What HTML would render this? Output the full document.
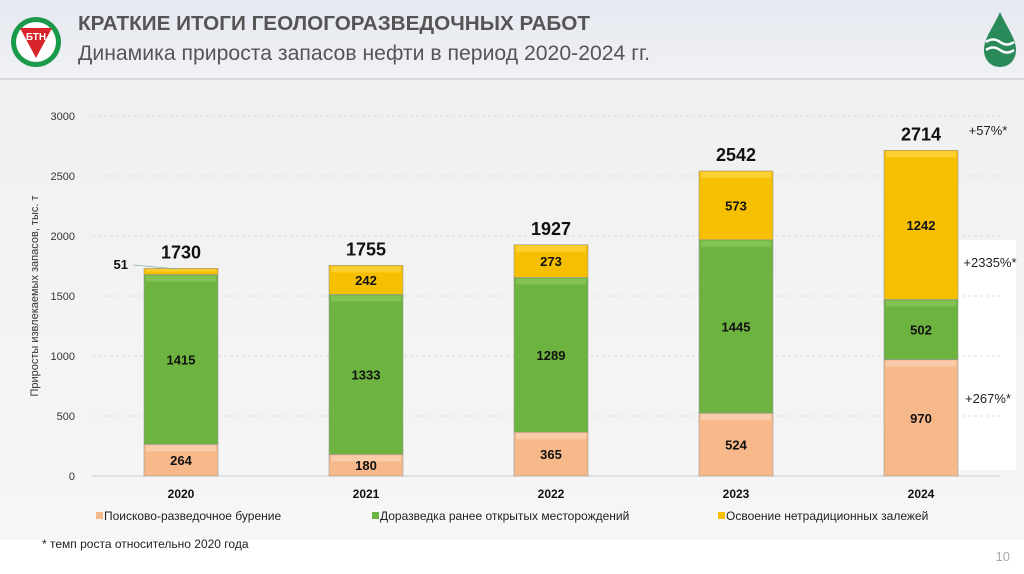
<!DOCTYPE html>
<html><head><meta charset="utf-8">
<style>
body{margin:0;width:1024px;height:574px;overflow:hidden;background:#fff;font-family:"Liberation Sans","DejaVu Sans",sans-serif;}
#hdr{position:absolute;left:0;top:0;width:1024px;height:78px;background:linear-gradient(#e6e9f1,#f0f1f5);border-bottom:2px solid #d8d8d8;}
#area{position:absolute;left:0;top:80px;width:1024px;height:460px;background:linear-gradient(#f0f0f0,#f6f6f6);}
</style></head>
<body>
<div id="hdr">
<svg width="1024" height="78" style="position:absolute;left:0;top:0">
<g>
<circle cx="36" cy="42" r="25" fill="#1a9a4a"/>
<circle cx="36" cy="42" r="20" fill="#fff"/>
<path d="M20 28 L52 28 L36 58 Z" fill="#d8232a"/>
<text x="36" y="40" font-size="10" font-weight="bold" fill="#fff" text-anchor="middle">БТН</text>
</g>
<g>
<path d="M1000 12 C993 28 984 38 984 50 C984 60 991 67 1000 67 C1009 67 1016 60 1016 50 C1016 38 1007 28 1000 12 Z" fill="#2a8a5a"/>
<path d="M986 42 q7 -5 14 0 q7 5 14 0 M986 50 q7 -5 14 0 q7 5 14 0" stroke="#fff" stroke-width="2.5" fill="none"/>
</g>
<text x="78" y="30" font-size="20" font-weight="bold" fill="#555" textLength="512" lengthAdjust="spacingAndGlyphs">КРАТКИЕ ИТОГИ ГЕОЛОГОРАЗВЕДОЧНЫХ РАБОТ</text>
<text x="78" y="60" font-size="21" fill="#555" textLength="572" lengthAdjust="spacingAndGlyphs">Динамика прироста запасов нефти в период 2020-2024 гг.</text>
</svg>
</div>
<div id="area"></div>
<svg id="chart" width="1024" height="574" style="position:absolute;left:0;top:0"></svg>
<script>
const years=["2020","2021","2022","2023","2024"];
const drilling=[264,180,365,524,970];
const exploration=[1415,1333,1289,1445,502];
const unconventional=[51,242,273,573,1242];
const totals=[1730,1755,1927,2542,2714];
const yTicks=[0,500,1000,1500,2000,2500,3000];
const growth=["+267%*","+2335%*","+57%*"];
const NS="http://www.w3.org/2000/svg";
const svg=document.getElementById('chart');
const y0=476,pxPer=0.12,xStart=181,xStep=185,bw=74;
const Y=v=>y0-v*pxPer, X=i=>xStart+i*xStep;
function el(t,a,txt){const e=document.createElementNS(NS,t);for(const k in a)e.setAttribute(k,a[k]);if(txt!=null)e.textContent=txt;svg.appendChild(e);return e;}
const wb=el('rect',{x:958,y:240,width:58,height:230,fill:'#fff'});


yTicks.forEach(t=>{
 const l=el('line',{x1:92,x2:1000,y1:Y(t),y2:Y(t),stroke:t?'#ddd':'#ccc','stroke-dasharray':t?'3,3':''});
 
 
 const tx=el('text',{x:75,y:Y(t)+4,'font-size':11,'text-anchor':'end',fill:'#333'},t);
 
 
});
const yt=el('text',{x:0,y:0,'font-size':11,fill:'#333','text-anchor':'middle',transform:'translate(38,296) rotate(-90)'},'Приросты извлекаемых запасов, тыс. т');


const series=[[drilling,'#f7b98a','#fde0c8','drilling'],[exploration,'#6db33f','#9ad36a','exploration'],[unconventional,'#f6c000','#ffe060','unconventional']];
years.forEach((yr,i)=>{
 let base=0;const x=X(i)-bw/2;
 series.forEach(([arr,c,lc,nm])=>{
  const v=arr[i];
  const r=el('rect',{x:x,y:Y(base+v),width:bw,height:v*pxPer,fill:c,stroke:'#999','stroke-width':0.6});
  
  
  const h=el('rect',{x:x+2,y:Y(base+v)+1,width:bw-4,height:Math.min(6,v*pxPer/3),fill:lc,opacity:0.5});
  
  
  if(v>100){const t=el('text',{x:X(i),y:Y(base+v/2)+5,'font-size':13,'font-weight':'bold','text-anchor':'middle',fill:'#111'},v);
   
   }
  base+=v;
 });
 const tt=el('text',{x:X(i),y:Y(totals[i])-10,'font-size':18,'font-weight':'bold','text-anchor':'middle',fill:'#111'},totals[i]);
 
 
 const xl=el('text',{x:X(i),y:498,'font-size':12,'font-weight':'bold','text-anchor':'middle',fill:'#111'},yr);
 
 
});
const s51=el('text',{x:128,y:269,'font-size':13,'font-weight':'bold','text-anchor':'end',fill:'#111'},unconventional[0]);


const ln=el('line',{x1:133,y1:265,x2:178,y2:269,stroke:'#8aa',"stroke-width":0.8});


[[988,403],[990,267],[988,135]].forEach((p,k)=>{
 const t=el('text',{x:p[0],y:p[1],'font-size':13,'text-anchor':'middle',fill:'#222'},growth[k]);
 
 
});
const leg=[['#f7b98a','Поисково-разведочное бурение',96],['#6db33f','Доразведка ранее открытых месторождений',372],['#f6c000','Освоение нетрадиционных залежей',718]];
leg.forEach(([c,t,x])=>{
 const r=el('rect',{x:x,y:512,width:7,height:7,fill:c});
 
 
 const tx=el('text',{x:x+8,y:520,'font-size':12,fill:'#222'},t);
 
 
});
const fn=el('text',{x:42,y:548,'font-size':12,fill:'#222'},'* темп роста относительно 2020 года');


const pn=el('text',{x:1010,y:561,'font-size':13,fill:'#aaa','text-anchor':'end'},'10');


</script>
</body></html>
